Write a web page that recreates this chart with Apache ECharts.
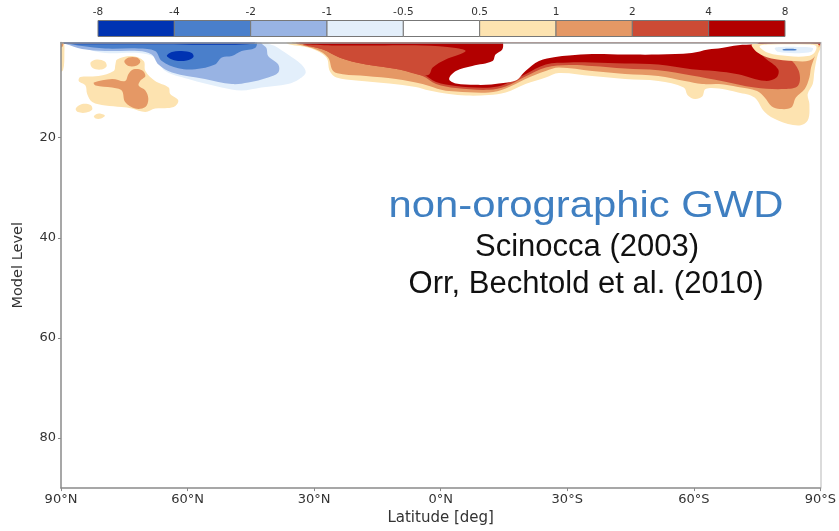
<!DOCTYPE html>
<html><head><meta charset="utf-8">
<script src="https://cdn.jsdelivr.net/npm/echarts@6/dist/echarts.min.js"></script>
<style>html,body{margin:0;padding:0;background:#fff}#c{width:839px;height:531px}</style>
</head><body><div id="c"></div>
<script>
// ---- tick labels ----
const latLabels = ['90°N','60°N','30°N','0°N','30°S','60°S','90°S'];
const levelTicks = [20, 40, 60, 80];
const cbLabels = ['-8','-4','-2','-1','-0.5','0.5','1','2','4','8'];
const cbColors = ['#0033b2','#4a7fcb','#98b3e3','#e3effb','#ffffff','#fde3b0','#e59865','#cc4b35','#b20000'];

// ---- contour regions: [latitude (deg, N positive), model level] ----
// red (positive) complex
const posGe05 = [[37.5,-3],[36.6,1],[35.8,1.4],[31.0,2.1],[27.1,4.0],[26.3,6.7],[24.7,8.0],[20.0,8.6],[12.2,9.2],[5.9,9.9],[2.7,10.6],[-2.0,11.3],[-6.0,11.6],[-11.4,11.5],[-15.4,11.0],[-20.1,9.3],[-24.9,8.0],[-28.0,7.1],[-35.9,7.7],[-43.7,8.3],[-51.6,8.7],[-57.6,10.0],[-58.6,11.6],[-60.3,12.3],[-62.0,11.8],[-62.8,10.3],[-66.0,10.2],[-70.5,11.0],[-74.4,12.0],[-76.8,14.9],[-80.0,16.6],[-84.7,17.6],[-87.0,16.6],[-87.4,13.3],[-87.0,11.3],[-88.2,9.3],[-88.6,6.7],[-89.4,3.4],[-90.5,1.4],[-92,-3]];
const posGe1 = [[36,-3],[35.3,1],[34.2,1.3],[29.5,2.4],[26.7,4.0],[25.5,6.7],[23.2,7.35],[17.7,7.7],[10.6,8.3],[4.3,9.3],[-0.4,10.5],[-3.6,10.8],[-11.4,11.0],[-15.4,10.2],[-20.1,8.3],[-24.9,6.7],[-28.0,6.0],[-35.9,6.7],[-43.7,7.3],[-51.6,7.7],[-57.9,8.7],[-62,9.3],[-66,9.3],[-70.5,9.9],[-75,10.7],[-76.8,12.0],[-78.5,13.8],[-80.4,14.3],[-83.1,14.0],[-84.2,12.0],[-86.3,10.3],[-87.4,8.0],[-87.8,6.0],[-88.6,4.0],[-89.4,2.1],[-90.5,1.2],[-92,-3]];
const posGe2 = [[35,-3],[34.3,1],[32.6,1.35],[27.9,2.4],[24.0,4.0],[20.0,5.0],[15.3,5.7],[9.8,6.4],[4.3,7.7],[1.1,9.3],[-3.6,10.1],[-11.4,10.45],[-15.4,9.8],[-20.1,7.8],[-24.9,6.0],[-30.4,5.5],[-35.9,5.7],[-43.7,6.2],[-51.6,6.55],[-59.5,7.6],[-66.6,8.7],[-74.4,10.0],[-81.5,10.3],[-84.7,9.65],[-84.9,6.7],[-82.3,4.0],[-78.4,2.7],[-75.5,1.6],[-75.5,-3]];
const posGe4 = [[34,-3],[33.5,1],[32.6,1.3],[27.9,2.2],[24.0,3.7],[20.0,4.7],[15.3,5.4],[9.8,6.1],[4.3,7.3],[1.1,8.9],[-3.6,9.7],[-9.9,10.05],[-13.5,9.8],[-15.4,9.3],[-20.1,7.35],[-24.9,5.4],[-30.4,5.0],[-35.9,5.0],[-43.7,5.2],[-51.6,5.4],[-59.5,6.35],[-65.0,6.7],[-70.5,7.35],[-76.8,8.66],[-79.6,8.0],[-80.0,6.36],[-76.8,4.05],[-74.4,2.1],[-74,1.5],[-80,1.3],[-90.5,1.25],[-92,-3]];
const posBody2 = [[32.6,1.45],[25,1.6],[15,1.6],[4.3,1.6],[-3.6,2.1],[-5.9,2.74],[-1.2,4.4],[1.9,6.0],[2.7,7.35],[4.3,7.6],[9.8,6.4],[15.3,5.7],[20.0,5.0],[24.0,4.0],[27.9,2.4]];
const posCore = [[-14.6,-3],[-76,-3],[-75.5,1.0],[-74.4,1.3],[-70.5,1.55],[-66.6,2.1],[-63.4,2.4],[-59.5,3.1],[-51.6,3.4],[-43.7,3.4],[-35.9,3.3],[-30.4,3.6],[-27.2,3.9],[-23.3,4.7],[-20.1,6.7],[-17.8,8.6],[-13.8,9.2],[-12,9.4],[-8.3,9.45],[-3.6,9.2],[-2.0,8.3],[-3.6,6.7],[-7.5,5.7],[-12.3,4.7],[-13.0,3.4],[-14.6,2.4],[-14.8,1]];
const pocketLt1 = [[-73.7,1.4],[-75.2,3.06],[-78.4,4.18],[-83.9,4.7],[-87.4,4.6],[-89.0,3.4],[-89.6,1.75],[-89.4,1.3],[-82.3,1.22],[-76.0,1.3]];
const pocketLt05 = [[-75.6,1.75],[-77.6,3.06],[-82.3,3.72],[-87.0,3.72],[-88.6,3.06],[-89.0,1.75],[-87.0,1.42],[-78.4,1.42]];
const pocketLtM05 = [[-79.2,2.08],[-80.0,2.87],[-84.7,3.13],[-87.8,2.87],[-88.2,2.08],[-84.7,1.88],[-80.8,1.88]];
const pocketLtM1 = [[-81.1,2.35],[-82.7,2.25],[-84.3,2.35],[-84.3,2.55],[-82.7,2.6],[-81.1,2.55]];
// blue (negative) complex, northern hemisphere
const negLeM05 = [[90.5,-3],[40.5,-3],[40.9,1],[39.3,1.7],[36.2,3.4],[33.0,5.4],[32.0,7.0],[33.5,8.3],[36.2,9.3],[42.5,10.0],[47.2,10.6],[51.9,10.0],[59.8,8.3],[65.3,6.7],[67.7,4.0],[71.6,3.1],[79.5,3.1],[85.0,2.1],[89.7,1.1],[90.5,1]];
const negLeM1 = [[90.5,-3],[42.3,-3],[42.5,1],[41.3,2.1],[40.9,3.7],[38.5,5.4],[38.5,7.0],[40.9,8.0],[45.6,9.0],[49.5,9.3],[55.9,8.3],[63.7,7.0],[66.9,5.4],[68.5,3.4],[71.6,2.7],[79.5,2.7],[85.0,2.3],[88.9,1.3],[90.5,1.2]];
const negLeM2 = [[90.5,-3],[43.3,-3],[43.5,1],[44.0,2.1],[47.2,2.7],[49.5,3.7],[51.9,4.0],[53.5,5.4],[58.2,6.35],[62.2,6.15],[66.1,4.7],[67.7,2.7],[71.6,2.2],[79.5,2.2],[85.0,1.7],[88.9,1.2],[90.5,1.1]];
const negLeM4Blob = [[64.9,3.7],[63.7,2.9],[61.4,2.7],[59.0,3.1],[58.6,3.9],[60.2,4.6],[62.9,4.6]];
const negLeM4Strip = [[90.5,-3],[44,-3],[44,1],[44.5,1.25],[50,1.45],[70,1.35],[85,1.35],[88.9,1.25],[90.5,1.2]];
// positive blobs, northern high latitudes
const nhGe05Main = [[76.7,4.4],[73.2,3.7],[70.4,4.7],[70.0,6.7],[67.7,8.7],[64.5,10.0],[64.1,11.3],[62.2,12.6],[63.3,13.9],[67.7,14.2],[70.0,14.9],[73.2,14.2],[75.6,13.9],[79.5,13.6],[82.6,12.9],[83.8,11.3],[84.2,9.6],[85.8,8.7],[85.4,7.9],[81.1,7.7],[77.5,6.7],[77.1,5.4]];
const nhGe05a = [[83.0,5.0],[81.5,4.4],[79.6,4.8],[79.2,5.8],[80.5,6.4],[82.5,6.1]];
const nhGe05b = [[86.5,14.2],[85,13.3],[83,13.5],[82.6,14.4],[84,15.0],[86,14.9]];
const nhGe05c = [[82.2,15.7],[81,15.2],[79.6,15.6],[80.5,16.2],[81.8,16.2]];
const nhGe05Edge = [[90.5,1],[89.4,1],[89.2,3],[89.5,6.5],[90.5,6.8]];
const nhGe1a = [[75,4.8],[74,4.0],[72,4.0],[71.2,4.8],[72,5.6],[74,5.7]];
const nhGe1Main = [[82.2,9.0],[77.9,8.3],[74.8,8.7],[74.0,7.3],[72.8,6.35],[70.8,6.55],[70.0,7.7],[71.2,8.65],[71.6,9.6],[70.0,10.6],[69.3,12.3],[70.0,13.9],[72.4,14.2],[74.8,12.9],[75.6,10.6],[77.9,10.0],[81.8,9.6]];
const nhGe1Corner = [[90.5,0],[89.5,0],[89.6,1.8],[90.5,1.9]];

// drawing order: [region, colour band index]
const layers = [
  [posGe05,5],[posGe1,6],[posGe2,7],[posGe4,8],[posBody2,7],[posCore,4],
  [pocketLt1,5],[pocketLt05,4],[pocketLtM05,3],[pocketLtM1,1],
  [negLeM05,3],[negLeM1,2],[negLeM2,1],[negLeM4Strip,0],[negLeM4Blob,0],
  [nhGe05Main,5],[nhGe05a,5],[nhGe05b,5],[nhGe05c,5],[nhGe05Edge,5],
  [nhGe1a,6],[nhGe1Main,6],[nhGe1Corner,6]
];

const chart = echarts.init(document.getElementById('c'), null, {renderer:'canvas'});
const axisGray = '#8a8a8a';
chart.setOption({
  animation: false,
  backgroundColor: '#fff',
  grid: [
    {left: 61, top: 42.5, width: 760, height: 450, show: false},
    {left: 98, top: 20.5, width: 687, height: 16, show: false}
  ],
  xAxis: [
    {gridIndex: 0, type: 'value', min: -90, max: 90, interval: 30, inverse: true, z: 10,
     axisLine: {show: true, onZero: false, lineStyle: {color: axisGray, width: 1.5}},
     axisTick: {show: true, length: 3, lineStyle: {color: axisGray}},
     axisLabel: {fontFamily: 'DejaVu Sans', fontSize: 13, color: '#333', margin: 5,
       formatter: v => latLabels[Math.round((90 - v) / 30)]},
     splitLine: {show: false},
     name: 'Latitude [deg]', nameLocation: 'middle', nameGap: 18,
     nameTextStyle: {fontFamily: 'DejaVu Sans', fontSize: 15, color: '#333'}},
    {gridIndex: 0, type: 'value', min: -90, max: 90, position: 'top', z: 10,
     axisLine: {show: true, onZero: false, lineStyle: {color: '#999', width: 1.5}},
     axisTick: {show: false}, axisLabel: {show: false}, splitLine: {show: false}},
    {gridIndex: 1, type: 'value', min: 0, max: 9, interval: 1, position: 'top',
     axisLine: {show: false}, axisTick: {show: false}, splitLine: {show: false},
     axisLabel: {fontFamily: 'DejaVu Sans', fontSize: 10.5, color: '#333', margin: 3,
       formatter: v => cbLabels[Math.round(v)]}}
  ],
  yAxis: [
    {gridIndex: 0, type: 'value', min: 1, max: 90, inverse: true, z: 10,
     axisLine: {show: true, onZero: false, lineStyle: {color: axisGray, width: 1.5}},
     axisTick: {show: true, length: 3, customValues: levelTicks, lineStyle: {color: axisGray}},
     axisLabel: {fontFamily: 'DejaVu Sans', fontSize: 13, color: '#333', margin: 5, customValues: levelTicks},
     splitLine: {show: false},
     name: 'Model Level', nameLocation: 'middle', nameGap: 35, nameRotate: 90,
     nameTextStyle: {fontFamily: 'DejaVu Sans', fontSize: 14.5, color: '#333'}},
    {gridIndex: 0, type: 'value', min: 1, max: 90, inverse: true, position: 'right', z: 10,
     axisLine: {show: true, onZero: false, lineStyle: {color: '#cfcfcf', width: 1.5}},
     axisTick: {show: false}, axisLabel: {show: false}, splitLine: {show: false}},
    {gridIndex: 1, type: 'value', min: 0, max: 1, show: false}
  ],
  series: [
    {type: 'custom', xAxisIndex: 0, yAxisIndex: 0, clip: true, z: 2,
     data: layers.map((l, i) => [i]),
     renderItem: (params, api) => {
       const l = layers[api.value(0)];
       const pts = l[0].map(p => api.coord(p));
       return {type: 'polygon', shape: {points: pts, smooth: 0.35},
         style: {fill: cbColors[l[1]], stroke: null}};
     }},
    {type: 'custom', xAxisIndex: 2, yAxisIndex: 2, z: 2,
     data: cbColors.map((c, i) => [i]),
     renderItem: (params, api) => {
       const i = api.value(0);
       const a = api.coord([i, 1]);
       const b = api.coord([i + 1, 0]);
       return {type: 'rect', shape: {x: a[0], y: a[1], width: b[0] - a[0], height: b[1] - a[1]},
         style: {fill: cbColors[i], stroke: '#777', lineWidth: 1}};
     }}
  ],
  graphic: [
    {type: 'text', x: 586, y: 207, scaleX: 1.13, z: 20,
     style: {text: 'non-orographic GWD', font: '37px "Liberation Sans"', fill: '#3f7fc1',
       textAlign: 'center', textVerticalAlign: 'middle'}},
    {type: 'text', x: 587, y: 247, z: 20,
     style: {text: 'Scinocca (2003)', font: '31px "Liberation Sans"', fill: '#111',
       textAlign: 'center', textVerticalAlign: 'middle'}},
    {type: 'text', x: 586, y: 284, z: 20,
     style: {text: 'Orr, Bechtold et al. (2010)', font: '31px "Liberation Sans"', fill: '#111',
       textAlign: 'center', textVerticalAlign: 'middle'}}
  ]
});
</script></body></html>
